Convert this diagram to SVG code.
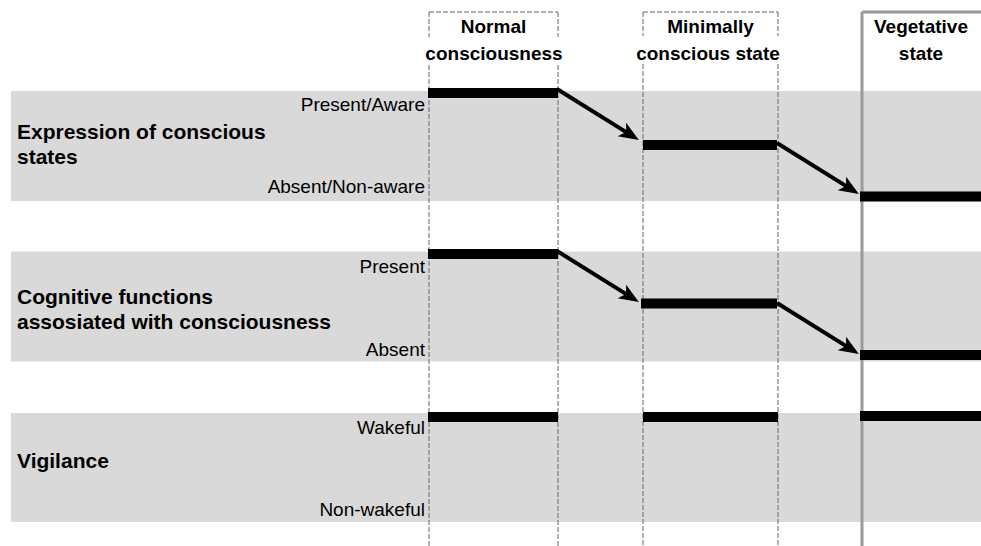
<svg xmlns="http://www.w3.org/2000/svg" width="981" height="546" viewBox="0 0 981 546">
<style>
.band{fill:#d9d9d9}
.vl{stroke:#666;stroke-width:1;stroke-dasharray:5 2;fill:none}
.vg{stroke:#9a9a9a;stroke-width:3;fill:none}
.bar{fill:#000}
.arr{stroke:#000;stroke-width:4;fill:none}
.hdr{font-family:"Liberation Sans",Arial,sans-serif;font-size:19px;font-weight:bold;text-anchor:middle;fill:#000}
.lbl{font-family:"Liberation Sans",Arial,sans-serif;font-size:21px;font-weight:bold;fill:#000}
.lvl{font-family:"Liberation Sans",Arial,sans-serif;font-size:19px;text-anchor:end;fill:#000}
</style>
<defs>
<marker id="ah" markerUnits="userSpaceOnUse" markerWidth="22" markerHeight="18" refX="6" refY="9" orient="auto" viewBox="0 0 22 18">
<path d="M0,1 L20,9 L0,17 L5,9 Z" fill="#000"/>
</marker>
</defs>
<g id="bands">
<rect class="band" x="11" y="91" width="970" height="110"/>
<rect class="band" x="11" y="251.5" width="970" height="110"/>
<rect class="band" x="11" y="413" width="970" height="109"/>
</g>
<g id="columns">
<g id="col-normal">
<path class="vl" d="M429,12 H558"/>
<path class="vl" d="M429,12 V37 M429,65 V546"/>
<path class="vl" d="M558,12 V37 M558,65 V546"/>
<text class="hdr" x="493.5" y="33">Normal</text>
<text class="hdr" x="494" y="60">consciousness</text>
</g>
<g id="col-minimal">
<path class="vl" d="M643,12 H778"/>
<path class="vl" d="M643,12 V36 M643,64 V546"/>
<path class="vl" d="M778,12 V36 M778,64 V546"/>
<text class="hdr" x="710.5" y="33">Minimally</text>
<text class="hdr" x="708" y="60">conscious state</text>
</g>
<g id="col-vegetative">
<path class="vg" d="M862,12 H981"/>
<path class="vg" d="M862,12 V546"/>
<text class="hdr" x="921" y="33">Vegetative</text>
<text class="hdr" x="921" y="60">state</text>
</g>
</g>
<g id="row-expression">
<text class="lbl" x="17" y="139">Expression of conscious</text>
<text class="lbl" x="17" y="164">states</text>
<text class="lvl" x="425" y="111">Present/Aware</text>
<text class="lvl" x="425" y="193">Absent/Non-aware</text>
<rect class="bar" x="428" y="88" width="130" height="10"/>
<rect class="bar" x="643" y="140" width="134" height="10"/>
<rect class="bar" x="860" y="191.5" width="121" height="10"/>
</g>
<g id="row-cognitive">
<text class="lbl" x="17" y="304">Cognitive functions</text>
<text class="lbl" x="17" y="329">assosiated with consciousness</text>
<text class="lvl" x="425" y="273">Present</text>
<text class="lvl" x="425" y="356">Absent</text>
<rect class="bar" x="428" y="249" width="130" height="10"/>
<rect class="bar" x="641" y="298.5" width="136" height="10"/>
<rect class="bar" x="860" y="350" width="121" height="10"/>
</g>
<g id="row-vigilance">
<text class="lbl" x="17" y="468">Vigilance</text>
<text class="lvl" x="425" y="434">Wakeful</text>
<text class="lvl" x="425" y="516">Non-wakeful</text>
<rect class="bar" x="428" y="412" width="130" height="10"/>
<rect class="bar" x="643" y="412" width="135" height="10"/>
<rect class="bar" x="860" y="411" width="121" height="10"/>
</g>
<g id="connectors">
<path class="arr" d="M557,89 L627,132.6" marker-end="url(#ah)"/>
<path class="arr" d="M777,143 L847,186.6" marker-end="url(#ah)"/>
<path class="arr" d="M557,251 L627,294.6" marker-end="url(#ah)"/>
<path class="arr" d="M777,303 L847,346.6" marker-end="url(#ah)"/>
</g>
</svg>
